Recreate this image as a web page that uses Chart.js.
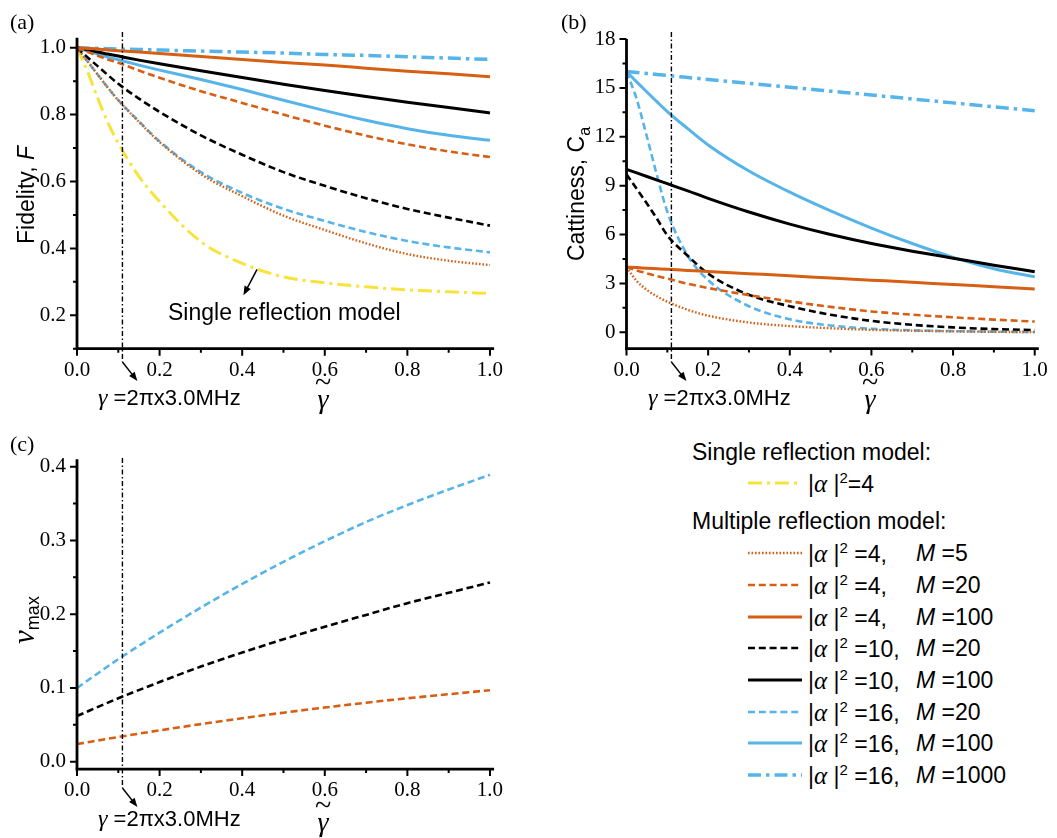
<!DOCTYPE html>
<html>
<head>
<meta charset="utf-8">
<script src="https://cdn.jsdelivr.net/npm/chart.js@4.4.1/dist/chart.umd.min.js"></script>
<style>
  html, body { margin: 0; padding: 0; background: #fff; }
  #page { position: relative; width: 1057px; height: 838px; overflow: hidden;
          font-family: 'Liberation Sans', Arial, sans-serif; color: #000; }
  canvas { position: absolute; }
  .t { position: absolute; white-space: nowrap; line-height: 1; }
  .c { transform: translate(-50%, -50%); }
  .l { transform: translateY(-50%); }
  .rot { transform: translate(-50%, -50%) rotate(-90deg); }
  .panel { font-family: 'Liberation Serif', serif; font-size: 22px; }
  .title { font-size: 23px; }
  .gi { font-family: 'Liberation Serif', serif; font-style: italic; }
  .leg { font-size: 23px; }
  .leg sup { font-size: 15px; vertical-align: 9px; line-height: 0; }
  .leg .al { font-family: 'Liberation Serif', serif; font-style: italic; font-size: 25px; }
  svg.t { overflow: visible; }
</style>
</head>
<body>
<div id="page">
  <canvas id="chartA" width="528" height="430" style="left:0;top:0"></canvas>
  <canvas id="chartB" width="529" height="430" style="left:528px;top:0"></canvas>
  <canvas id="chartC" width="528" height="408" style="left:0;top:430px"></canvas>

  <!-- panel labels -->
  <div class="t panel l" style="left:10px;top:22px">(a)</div>
  <div class="t panel l" style="left:561px;top:22px">(b)</div>
  <div class="t panel l" style="left:10px;top:444px">(c)</div>

  <!-- axis titles -->
  <div class="t title rot" style="left:26px;top:195px">Fidelity, <i>F</i></div>
  <div class="t title rot" style="left:579px;top:194px">Cattiness, C<sub style="font-size:16px">a</sub></div>
  <div class="t rot" style="left:25px;top:620px"><span class="gi" style="font-size:31px">ν</span><sub style="font-size:18px">max</sub></div>

  <div class="t c gi" style="left:323px;top:382px;font-size:30px;font-style:normal">~</div>
  <div class="t c gi" style="left:323px;top:399px;font-size:28px">γ</div>
  <div class="t c gi" style="left:870px;top:382px;font-size:30px;font-style:normal">~</div>
  <div class="t c gi" style="left:870px;top:399px;font-size:28px">γ</div>
  <div class="t c gi" style="left:323px;top:805px;font-size:30px;font-style:normal">~</div>
  <div class="t c gi" style="left:323px;top:822px;font-size:28px">γ</div>

  <!-- annotations -->
  <div class="t l" style="left:98px;top:397px;font-size:22px"><span class="gi" style="font-size:24px">γ</span> =2πx3.0MHz</div>
  <div class="t l" style="left:648px;top:397px;font-size:22px"><span class="gi" style="font-size:24px">γ</span> =2πx3.0MHz</div>
  <div class="t l" style="left:98px;top:818px;font-size:22px"><span class="gi" style="font-size:24px">γ</span> =2πx3.0MHz</div>
  <div class="t l title" style="left:168px;top:312px">Single reflection model</div>

  <!-- legend -->
  <div id="legend"></div>
</div>

<script>
// shared x grid for panels (a) and (b)
const xs = [0, 0.025, 0.05, 0.075, 0.1, 0.15, 0.2, 0.3, 0.4, 0.5, 0.6, 0.7, 0.8, 0.9, 1.0];
// x grid for panel (c)
const xv = [0, 0.1, 0.2, 0.3, 0.4, 0.5, 0.6, 0.7, 0.8, 0.9, 1.0];

// (a) fidelity F
const fidSingle4 = [1.0, 0.93, 0.85, 0.775, 0.715, 0.615, 0.54, 0.42, 0.355, 0.315, 0.297, 0.285, 0.276, 0.27, 0.265];
const fid4M5     = [1.0, 0.96, 0.92, 0.88, 0.843, 0.778, 0.718, 0.622, 0.556, 0.498, 0.455, 0.415, 0.383, 0.363, 0.35];
const fid4M20    = [1.0, 0.988, 0.976, 0.965, 0.955, 0.932, 0.91, 0.87, 0.835, 0.8, 0.767, 0.737, 0.711, 0.69, 0.673];
const fid4M100   = [1.0, 0.998, 0.996, 0.993, 0.991, 0.987, 0.983, 0.974, 0.965, 0.956, 0.948, 0.939, 0.93, 0.922, 0.913];
const fid10M20   = [1.0, 0.972, 0.945, 0.918, 0.892, 0.848, 0.808, 0.738, 0.68, 0.628, 0.587, 0.55, 0.518, 0.492, 0.468];
const fid10M100  = [1.0, 0.994, 0.987, 0.981, 0.975, 0.963, 0.952, 0.931, 0.911, 0.891, 0.872, 0.854, 0.837, 0.821, 0.805];
const fid16M20   = [1.0, 0.96, 0.92, 0.88, 0.843, 0.78, 0.72, 0.628, 0.566, 0.518, 0.482, 0.449, 0.422, 0.403, 0.388];
const fid16M100  = [1.0, 0.99, 0.981, 0.972, 0.964, 0.948, 0.933, 0.905, 0.875, 0.843, 0.812, 0.783, 0.758, 0.738, 0.723];
const fid16M1000 = [1.0, 0.999, 0.998, 0.997, 0.996, 0.995, 0.993, 0.99, 0.987, 0.984, 0.98, 0.977, 0.973, 0.969, 0.965];

// (b) cattiness C_a
const cat4M5     = [4.0, 3.15, 2.6, 2.2, 1.88, 1.38, 1.02, 0.6, 0.38, 0.25, 0.15, 0.1, 0.06, 0.03, 0.01];
const cat4M20    = [4.0, 3.8, 3.62, 3.45, 3.3, 2.98, 2.72, 2.28, 1.9, 1.56, 1.28, 1.08, 0.92, 0.78, 0.66];
const cat4M100   = [4.0, 3.97, 3.93, 3.9, 3.87, 3.8, 3.73, 3.6, 3.47, 3.33, 3.2, 3.07, 2.93, 2.8, 2.66];
const cat10M20   = [9.7, 8.8, 7.9, 6.95, 5.95, 4.7, 3.6, 2.3, 1.6, 1.08, 0.7, 0.46, 0.3, 0.2, 0.14];
const cat10M100  = [10.0, 9.78, 9.56, 9.34, 9.12, 8.68, 8.22, 7.38, 6.64, 6.0, 5.45, 4.98, 4.55, 4.12, 3.72];
const cat16M20   = [16.0, 14.3, 12.0, 9.6, 7.4, 4.7, 3.2, 1.6, 0.8, 0.42, 0.22, 0.12, 0.07, 0.04, 0.02];
const cat16M100  = [16.0, 15.37, 14.75, 14.14, 13.55, 12.5, 11.5, 9.9, 8.6, 7.45, 6.4, 5.45, 4.6, 3.9, 3.4];
const cat16M1000 = [16.0, 15.94, 15.88, 15.82, 15.76, 15.64, 15.52, 15.28, 15.04, 14.8, 14.56, 14.32, 14.08, 13.84, 13.6];

// (c) nu_max
const nu4M20  = [0.024, 0.0335, 0.0425, 0.051, 0.059, 0.0665, 0.0735, 0.08, 0.086, 0.0915, 0.097];
const nu10M20 = [0.062, 0.086, 0.108, 0.129, 0.148, 0.166, 0.183, 0.199, 0.215, 0.229, 0.243];
const nu16M20 = [0.1, 0.139, 0.175, 0.209, 0.241, 0.271, 0.299, 0.325, 0.348, 0.369, 0.389];

const markerX = 0.11; // gamma = 2pi x 3.0 MHz

const ORANGE = '#D65F14';
const BLUE = '#56B4E9';
const YELLOW = '#F6E33C';
const BLACK = '#000000';
const DOT = [1.6, 1.9];
const DASH = [7, 3.8];
const DASHDOT = [14, 5, 3, 5];
const DASHDOT2 = [13, 5, 3.5, 5];
const SOLID = [];

function series(xArr, yArr, color, dash, width) {
  return {
    data: xArr.map((x, i) => ({ x: x, y: yArr[i] })),
    borderColor: color,
    borderDash: dash,
    borderWidth: width,
    pointRadius: 0,
    fill: false,
    cubicInterpolationMode: 'monotone'
  };
}

function isMajor(v, step) {
  const r = v / step;
  return Math.abs(r - Math.round(r)) < 1e-6;
}

function arrow(ctx, x1, y1, x2, y2) {
  const ang = Math.atan2(y2 - y1, x2 - x1);
  const hl = 9, hw = 3.5;
  ctx.lineWidth = 1.5;
  ctx.beginPath();
  ctx.moveTo(x1, y1);
  ctx.lineTo(x2 - Math.cos(ang) * hl * 0.8, y2 - Math.sin(ang) * hl * 0.8);
  ctx.stroke();
  ctx.beginPath();
  ctx.moveTo(x2, y2);
  ctx.lineTo(x2 - Math.cos(ang) * hl + Math.sin(ang) * hw, y2 - Math.sin(ang) * hl - Math.cos(ang) * hw);
  ctx.lineTo(x2 - Math.cos(ang) * hl - Math.sin(ang) * hw, y2 - Math.sin(ang) * hl + Math.cos(ang) * hw);
  ctx.closePath();
  ctx.fill();
}

// axes, major/minor ticks, the dash-dot marker line and arrows
const overlay = {
  id: 'overlay',
  afterDraw(chart, args, opts) {
    const { ctx, chartArea: a } = chart;
    const x = chart.scales.x, y = chart.scales.y;
    ctx.save();
    ctx.strokeStyle = '#000';
    ctx.fillStyle = '#000';
    ctx.lineWidth = 2;
    ctx.beginPath();
    x.ticks.forEach(t => {
      const px = x.getPixelForValue(t.value);
      const len = t.label !== '' ? 7 : 4;
      ctx.moveTo(px, a.bottom);
      ctx.lineTo(px, a.bottom + len);
    });
    y.ticks.forEach(t => {
      const py = y.getPixelForValue(t.value);
      const len = t.label !== '' ? 7 : 4;
      ctx.moveTo(a.left, py);
      ctx.lineTo(a.left - len, py);
    });
    ctx.stroke();

    ctx.lineWidth = 2.8;
    ctx.beginPath();
    ctx.moveTo(a.left - 1.5, a.bottom);
    ctx.lineTo(a.right, a.bottom);
    ctx.moveTo(a.left, a.bottom + 1.4);
    ctx.lineTo(a.left, a.top);
    ctx.stroke();

    const m = opts.marker;
    if (m) {
      const px = x.getPixelForValue(m.value);
      ctx.lineWidth = 1.4;
      ctx.setLineDash([5, 2.5, 1.5, 2.5]);
      ctx.beginPath();
      ctx.moveTo(px, m.top);
      ctx.lineTo(px, m.bottom);
      ctx.stroke();
      ctx.setLineDash([]);
      arrow(ctx, px, m.bottom, px + 15, m.bottom + 19);
    }
    (opts.arrows || []).forEach(p => {
      arrow(ctx, x.getPixelForValue(p[0]), y.getPixelForValue(p[1]),
                 x.getPixelForValue(p[2]), y.getPixelForValue(p[3]));
    });
    ctx.restore();
  }
};

function makeChart(id, datasets, cfg) {
  const tickFont = { family: 'Liberation Serif', size: 21 };
  return new Chart(document.getElementById(id), {
    type: 'line',
    data: { datasets: datasets },
    options: {
      responsive: false,
      animation: false,
      devicePixelRatio: 1,
      layout: { padding: { left: 0, top: cfg.top, right: cfg.right, bottom: 0 } },
      plugins: {
        legend: { display: false },
        tooltip: { enabled: false },
        overlay: { marker: cfg.marker, arrows: cfg.arrows }
      },
      scales: {
        x: {
          type: 'linear', min: 0, max: 1.01,
          grid: { display: false, drawTicks: false },
          border: { display: false },
          afterFit: s => { s.height = cfg.xHeight; },
          ticks: {
            stepSize: 0.1, includeBounds: false, autoSkip: false, maxRotation: 0,
            padding: 9, color: '#000', font: tickFont,
            callback: v => isMajor(v, 0.2) ? v.toFixed(1) : ''
          }
        },
        y: {
          type: 'linear', min: cfg.yMin, max: cfg.yMax,
          grid: { display: false, drawTicks: false },
          border: { display: false },
          afterFit: s => { s.width = cfg.yWidth; },
          ticks: {
            stepSize: cfg.yStep, includeBounds: false, autoSkip: false,
            padding: 11, color: '#000', font: tickFont,
            callback: v => isMajor(v, cfg.yMajor) ? v.toFixed(cfg.yDigits) : ''
          }
        }
      }
    },
    plugins: [overlay]
  });
}

makeChart('chartA', [
  series(xs, fid4M5, ORANGE, DOT, 2.4),
  series(xs, fid4M20, ORANGE, DASH, 2.6),
  series(xs, fid4M100, ORANGE, SOLID, 3),
  series(xs, fid10M20, BLACK, DASH, 2.6),
  series(xs, fid10M100, BLACK, SOLID, 3),
  series(xs, fid16M20, BLUE, DASH, 2.6),
  series(xs, fid16M100, BLUE, SOLID, 3),
  series(xs, fid16M1000, BLUE, DASHDOT2, 3.5),
  series(xs, fidSingle4, YELLOW, DASHDOT, 3)
], {
  yMin: 0.1, yMax: 1.03, yStep: 0.1, yMajor: 0.2, yDigits: 1,
  top: 37.7, right: 33.9, xHeight: 81.3, yWidth: 77,
  marker: { value: markerX, top: 32, bottom: 362 },
  arrows: [[0.436, 0.337, 0.403, 0.26]]
});

makeChart('chartB', [
  series(xs, cat4M5, ORANGE, DOT, 2.4),
  series(xs, cat4M20, ORANGE, DASH, 2.6),
  series(xs, cat4M100, ORANGE, SOLID, 3),
  series(xs, cat10M20, BLACK, DASH, 2.6),
  series(xs, cat10M100, BLACK, SOLID, 3),
  series(xs, cat16M20, BLUE, DASH, 2.6),
  series(xs, cat16M100, BLUE, SOLID, 3),
  series(xs, cat16M1000, BLUE, DASHDOT2, 3.5)
], {
  yMin: -1, yMax: 18, yStep: 1.5, yMajor: 3, yDigits: 0,
  top: 39, right: 15.7, xHeight: 81.4, yWidth: 98.5,
  marker: { value: markerX, top: 32, bottom: 362 }
});

makeChart('chartC', [
  series(xv, nu4M20, ORANGE, DASH, 2.6),
  series(xv, nu10M20, BLACK, DASH, 2.6),
  series(xv, nu16M20, BLUE, DASH, 2.6)
], {
  yMin: -0.01, yMax: 0.41, yStep: 0.05, yMajor: 0.1, yDigits: 1,
  top: 29.3, right: 33.9, xHeight: 68.9, yWidth: 77,
  marker: { value: markerX, top: 28, bottom: 358 }
});

// legend
const legendRows = [
  { y: 553, color: ORANGE, dash: DOT, w: 2.4, a: '4,', m: '5' },
  { y: 585, color: ORANGE, dash: DASH, w: 2.6, a: '4,', m: '20' },
  { y: 617, color: ORANGE, dash: SOLID, w: 3, a: '4,', m: '100' },
  { y: 648, color: BLACK, dash: DASH, w: 2.6, a: '10,', m: '20' },
  { y: 680, color: BLACK, dash: SOLID, w: 3, a: '10,', m: '100' },
  { y: 712, color: BLUE, dash: DASH, w: 2.6, a: '16,', m: '20' },
  { y: 743, color: BLUE, dash: SOLID, w: 3, a: '16,', m: '100' },
  { y: 775, color: BLUE, dash: DASHDOT2, w: 3.5, a: '16,', m: '1000' }
];

function sample(y, color, dash, w) {
  return '<svg class="t" style="left:747px;top:' + (y - 5) + 'px" width="56" height="10">' +
    '<line x1="1" y1="5" x2="55" y2="5" stroke="' + color + '" stroke-width="' + w +
    '" stroke-dasharray="' + dash.join(' ') + '"/></svg>';
}

let html = '';
html += '<div class="t l leg" style="left:692px;top:452px">Single reflection model:</div>';
html += sample(483, YELLOW, DASHDOT, 3);
html += '<div class="t l leg" style="left:808px;top:483px">|<span class="al">α</span> |<sup>2</sup>=4</div>';
html += '<div class="t l leg" style="left:692px;top:521px">Multiple reflection model:</div>';
legendRows.forEach(r => {
  html += sample(r.y, r.color, r.dash, r.w);
  html += '<div class="t l leg" style="left:808px;top:' + r.y + 'px">|<span class="al">α</span> |<sup>2</sup> =' + r.a + '</div>';
  html += '<div class="t l leg" style="left:916px;top:' + r.y + 'px"><i>M</i> =' + r.m + '</div>';
});
document.getElementById('legend').innerHTML = html;
</script>
</body>
</html>
